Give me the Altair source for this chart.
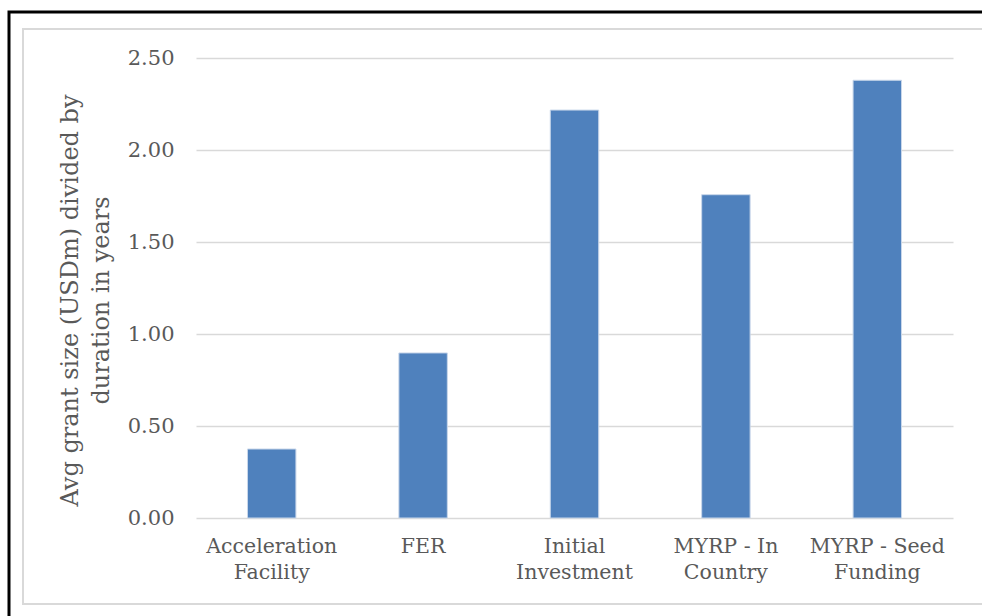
import altair as alt
import pandas as pd

categories = ["Acceleration|Facility", "FER", "Initial|Investment", "MYRP - In|Country", "MYRP - Seed|Funding"]
values = [0.375, 0.897, 2.217, 1.757, 2.379]

df = pd.DataFrame({"cat": categories, "val": values})

FONT = "DejaVu Serif"
GRAY = "#595959"

base = alt.Chart(df)

bars = base.mark_bar(color="#4F81BD", stroke="#C9D7EA", strokeWidth=1).encode(
    x=alt.X("cat:N", sort=None,
            scale=alt.Scale(paddingInner=0.68, paddingOuter=0.34),
            axis=alt.Axis(title=None, labelAngle=0, ticks=False, domain=False,
                          labelExpr="split(datum.label, '|')",
                          labelFont=FONT, labelFontSize=20.5, labelColor=GRAY,
                          labelPadding=18, labelLineHeight=26)),
    y=alt.Y("val:Q",
            scale=alt.Scale(domain=[0, 2.5], nice=False),
            axis=alt.Axis(values=[0, 0.5, 1.0, 1.5, 2.0, 2.5], format=".2f",
                          title=["Avg grant size (USDm) divided by", "duration in years"],
                          titleFont=FONT, titleFontSize=24, titleFontWeight="normal",
                          titleColor=GRAY, titleLineHeight=31, titlePadding=14,
                          titleY=242, titleAlign="center",
                          labelFont=FONT, labelFontSize=21, labelColor=GRAY,
                          labelPadding=22, ticks=False, domain=False,
                          gridColor="#D9D9D9", gridWidth=1.5)),
)

outer = base.mark_rect(fill=None, stroke="#000000", strokeWidth=3, clip=False).encode(
    x=alt.value(-187), x2=alt.value(820), y=alt.value(-46), y2=alt.value(600)
).transform_filter("datum.cat == 'FER'")

inner = base.mark_rect(fill=None, stroke="#D9D9D9", strokeWidth=2, clip=False).encode(
    x=alt.value(-173), x2=alt.value(810), y=alt.value(-29), y2=alt.value(86 + 460)
).transform_filter("datum.cat == 'FER'")

chart = alt.layer(outer, inner, bars).properties(
    width=757, height=460,
    padding={"left": 196, "top": 58, "right": 29, "bottom": 98},
    autosize=alt.AutoSizeParams(type="none"),
    background="white",
).configure_view(stroke=None)

chart.save("out.html", embed_options={"renderer": "svg", "actions": False})
